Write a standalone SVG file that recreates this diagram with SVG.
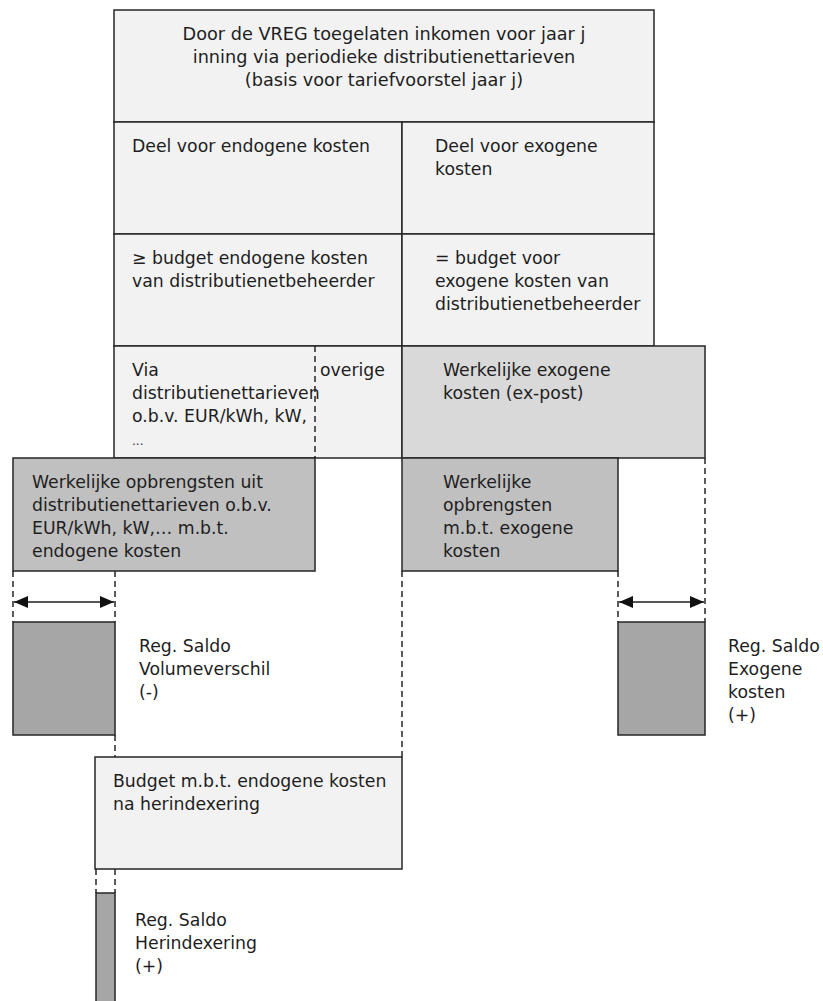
<svg xmlns="http://www.w3.org/2000/svg" width="823" height="1001" viewBox="0 0 823 1001">
<defs>
<style>
text{font-family:"DejaVu Sans","Verdana",sans-serif;font-size:17.3px;fill:#1e1e1e}
.title{font-size:17.7px}
.box{stroke:#262626;stroke-width:1.5}
.l1{fill:#f2f2f2}
.l2{fill:#d9d9d9}
.l3{fill:#c0c0c0}
.l4{fill:#a6a6a6}
.dash{stroke:#262626;stroke-width:1.5;stroke-dasharray:6 4;fill:none}
.arr{stroke:#1e1e1e;stroke-width:1.6;fill:none;marker-start:url(#ah);marker-end:url(#ah)}
</style>
<marker id="ah" viewBox="0 0 14 12" refX="14" refY="6" markerWidth="14" markerHeight="12" markerUnits="userSpaceOnUse" orient="auto-start-reverse">
<path d="M0,0 L14,6 L0,12 Z" fill="#111"/>
</marker>
</defs>
<g id="connectors">
<line class="dash" x1="13" y1="571" x2="13" y2="622"/>
<line class="dash" x1="115" y1="571" x2="115" y2="622"/>
<line class="dash" x1="115" y1="735" x2="115" y2="757"/>
<line class="dash" x1="402" y1="571" x2="402" y2="757"/>
<line class="dash" x1="618" y1="571" x2="618" y2="622"/>
<line class="dash" x1="705" y1="458" x2="705" y2="622"/>
<line class="dash" x1="96" y1="869" x2="96" y2="893"/>
<line class="dash" x1="115" y1="869" x2="115" y2="893"/>
<line class="arr" x1="14" y1="602" x2="114" y2="602"/>
<line class="arr" x1="619" y1="602" x2="704" y2="602"/>
</g>
<g id="toegelaten-inkomen">
<rect class="box l1" x="114" y="10" width="540" height="112"/>
<text class="title" x="384" y="40" text-anchor="middle">Door de VREG toegelaten inkomen voor jaar j</text>
<text class="title" x="384" y="63" text-anchor="middle">inning via periodieke distributienettarieven</text>
<text class="title" x="384" y="86" text-anchor="middle">(basis voor tariefvoorstel jaar j)</text>
</g>
<g id="deel-endogeen">
<rect class="box l1" x="114" y="122" width="288" height="112"/>
<text x="132" y="152">Deel voor endogene kosten</text>
</g>
<g id="deel-exogeen">
<rect class="box l1" x="402" y="122" width="252" height="112"/>
<text x="435" y="152">Deel voor exogene</text>
<text x="435" y="175">kosten</text>
</g>
<g id="budget-endogeen">
<rect class="box l1" x="114" y="234" width="288" height="112"/>
<text x="132" y="264">≥ budget endogene kosten</text>
<text x="132" y="287">van distributienetbeheerder</text>
</g>
<g id="budget-exogeen">
<rect class="box l1" x="402" y="234" width="252" height="112"/>
<text x="435" y="264">= budget voor</text>
<text x="435" y="287">exogene kosten van</text>
<text x="435" y="310">distributienetbeheerder</text>
</g>
<g id="via-distributienettarieven">
<rect class="box l1" x="114" y="346" width="288" height="112"/>
<text x="132" y="376">Via</text>
<text x="132" y="399">distributienettarieven</text>
<text x="132" y="422">o.b.v. EUR/kWh, kW,</text>
<text x="132" y="445" style="font-size:12px;fill:#333">...</text>
<line class="dash" x1="315" y1="346" x2="315" y2="458"/>
<text x="320" y="376">overige</text>
</g>
<g id="werkelijke-exogene-kosten">
<rect class="box l2" x="402" y="346" width="303" height="112"/>
<text x="443" y="376">Werkelijke exogene</text>
<text x="443" y="399">kosten (ex-post)</text>
</g>
<g id="opbrengsten-endogeen">
<rect class="box l3" x="13" y="458" width="302" height="113"/>
<text x="32" y="488">Werkelijke opbrengsten uit</text>
<text x="32" y="511">distributienettarieven o.b.v.</text>
<text x="32" y="534">EUR/kWh, kW,… m.b.t.</text>
<text x="32" y="557">endogene kosten</text>
</g>
<g id="opbrengsten-exogeen">
<rect class="box l3" x="402" y="458" width="216" height="113"/>
<text x="443" y="488">Werkelijke</text>
<text x="443" y="511">opbrengsten</text>
<text x="443" y="534">m.b.t. exogene</text>
<text x="443" y="557">kosten</text>
</g>
<g id="saldo-volumeverschil">
<rect class="box l4" x="13" y="622" width="102" height="113"/>
<text x="139" y="652">Reg. Saldo</text>
<text x="139" y="675">Volumeverschil</text>
<text x="139" y="698">(-)</text>
</g>
<g id="saldo-exogeen">
<rect class="box l4" x="618" y="622" width="87" height="113"/>
<text x="728" y="652">Reg. Saldo</text>
<text x="728" y="675">Exogene</text>
<text x="728" y="698">kosten</text>
<text x="728" y="721">(+)</text>
</g>
<g id="budget-herindexering">
<rect class="box l1" x="95" y="757" width="307" height="112"/>
<text x="113" y="787">Budget m.b.t. endogene kosten</text>
<text x="113" y="810">na herindexering</text>
</g>
<g id="saldo-herindexering">
<rect class="box l4" x="96" y="893" width="19" height="112"/>
<text x="135" y="926">Reg. Saldo</text>
<text x="135" y="949">Herindexering</text>
<text x="135" y="972">(+)</text>
</g>
</svg>
